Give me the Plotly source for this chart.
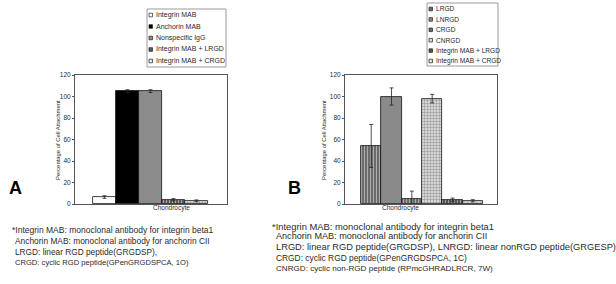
import plotly.graph_objects as go

W, H = 616, 284

# ---------------- data ----------------
a_labels = ["Integrin MAB", "Anchorin MAB", "Nonspecific IgG",
            "Integrin MAB + LRGD", "Integrin MAB + CRGD"]
a_values = [6.5, 105, 105, 4, 3]
a_errors = [1.2, 1.3, 1.3, 1.0, 0.8]

b_labels = ["LRGD", "LNRGD", "CRGD", "CNRGD",
            "Integrin MAB + LRGD", "Integrin MAB + CRGD"]
b_values = [54, 100, 5, 98, 4, 3]
b_errors = [20, 8, 7, 4, 1.5, 1.0]

y_ticks = [0, 20, 40, 60, 80, 100, 120]
x_title = "Chondrocyte"
y_title = "Percentage of Cell Attachment"

a_notes = ["*Integrin MAB: monoclonal antibody for integrin beta1",
           "Anchorin MAB: monoclonal antibody for anchorin CII",
           "LRGD: linear RGD peptide(GRGDSP),",
           "CRGD: cyclic RGD peptide(GPenGRGDSPCA, 1O)"]
b_notes = ["*Integrin MAB: monoclonal antibody for integrin beta1",
           "Anchorin MAB: monoclonal antibody for anchorin CII",
           "LRGD: linear RGD peptide(GRGDSP), LNRGD: linear nonRGD peptide(GRGESP)",
           "CRGD: cyclic RGD peptide(GPenGRGDSPCA, 1C)",
           "CNRGD: cyclic non-RGD peptide (RPmcGHRADLRCR, 7W)"]

# ---------------- styles ----------------
a_colors = ["#ffffff", "#000000", "#8c8c8c", "#5a5a5a", "#e6e6e6"]
a_shapes = ["", "", "", "|", "."]
a_fg = ["#000", "#000", "#000", "#2a2a2a", "#000"]
b_colors = ["#6b6b6b", "#8a8a8a", "#6b6b6b", "#d6d6d6", "#555555", "#dcdcdc"]
b_shapes = ["|", "", "|", "+", "|", "x"]
b_fg = ["#4a4a4a", "#000", "#4a4a4a", "#9a9a9a", "#2a2a2a", "#000"]

FONT = "Liberation Sans, Arial, sans-serif"
TXT = "#2a2a2a"

# per-line footnote font sizes (the scan's capitals run narrower than Arial)
a_note_sizes = [8.5, 8.4, 8.3, 7.6]
b_note_sizes = [9.4, 9.1, 9.3, 8.4, 8.1]


def px(x):
    return x / W


def py(y):
    return 1 - y / H


fig = go.Figure()

fig.add_trace(go.Bar(
    x=a_labels, y=a_values, width=1, xaxis="x", yaxis="y",
    marker=dict(color=a_colors, line=dict(color="#111", width=0.8),
                pattern=dict(shape=a_shapes, fgcolor=a_fg, bgcolor=a_colors,
                             size=3, solidity=0.35)),
    error_y=dict(type="data", array=a_errors, visible=True,
                 color="#222", thickness=0.8, width=2),
    showlegend=False))

fig.add_trace(go.Bar(
    x=b_labels, y=b_values, width=1, xaxis="x2", yaxis="y2",
    marker=dict(color=b_colors, line=dict(color="#111", width=0.8),
                pattern=dict(shape=b_shapes, fgcolor=b_fg, bgcolor=b_colors,
                             size=3, solidity=0.3)),
    error_y=dict(type="data", array=b_errors, visible=True,
                 color="#222", thickness=0.8, width=2),
    showlegend=False))

ydom = [py(204), py(75)]
common_x = dict(showticklabels=False, ticks="", showline=True, mirror=True,
                linecolor="#555", linewidth=1, showgrid=False, zeroline=False,
                type="category", automargin=False)
common_y = dict(range=[0, 120], tickvals=y_ticks, ticks="outside", ticklen=2,
                tickcolor="#555", tickfont=dict(size=6.5, color=TXT, family=FONT),
                showline=True, mirror=True, linecolor="#555", linewidth=1,
                showgrid=False, zeroline=False, automargin=False, domain=ydom)

fig.update_layout(
    width=W, height=H, margin=dict(l=0, r=0, t=0, b=0),
    paper_bgcolor="white", plot_bgcolor="white",
    barmode="overlay", bargap=0,
    font=dict(family=FONT, color=TXT),
    xaxis=dict(domain=[px(75), px(227)], range=[-1.28, 5.33],
               categoryarray=a_labels, categoryorder="array", **common_x),
    yaxis=dict(anchor="x", **common_y),
    xaxis2=dict(domain=[px(345), px(497)], range=[-1.29, 6.19],
                categoryarray=b_labels, categoryorder="array", **common_x),
    yaxis2=dict(anchor="x2", **common_y),
)

ann = []
shapes = []

# axis titles
for cx, ycx in [(151, 53), (421, 324)]:
    ann.append(dict(x=px(cx), y=py(214), xref="paper", yref="paper",
                    text=x_title, showarrow=False,
                    font=dict(size=6.5, family=FONT, color=TXT)))
    ann.append(dict(x=px(ycx), y=py(140), xref="paper", yref="paper",
                    text=y_title, showarrow=False, textangle=-90,
                    font=dict(size=5.9, family=FONT, color=TXT)))

# panel letters
for letter, cx in [("A", 6.5), ("B", 294.5)]:
    ann.append(dict(x=px(cx), y=py(188.5), xref="paper", yref="paper",
                    text="<b>%s</b>" % letter, showarrow=False,
                    font=dict(size=18, family=FONT, color="#000")))


# legends (drawn manually to match the compact original boxes)
def legend(labels, colors, x0, x1, y0, y1, first, step, fsize):
    shapes.append(dict(type="rect", xref="paper", yref="paper",
                       x0=px(x0), x1=px(x1), y0=py(y1), y1=py(y0),
                       line=dict(color="#9a9a9a", width=1), fillcolor="white"))
    for i, (lab, col) in enumerate(zip(labels, colors)):
        cy = first + i * step
        shapes.append(dict(type="rect", xref="paper", yref="paper",
                           x0=px(x0 + 2), x1=px(x0 + 5.5),
                           y0=py(cy + 1.8), y1=py(cy - 1.8),
                           line=dict(color="#222", width=0.7), fillcolor=col))
        ann.append(dict(x=px(x0 + 6.5), y=py(cy), xref="paper", yref="paper",
                        xanchor="left", yanchor="middle", text=lab,
                        showarrow=False,
                        font=dict(size=fsize, family=FONT, color=TXT)))


legend(a_labels, a_colors, 147, 226, 9, 67, 15, 11.5, 7)
legend(b_labels, b_colors, 427, 498, 3, 66, 9, 10.4, 6.6)


# footnotes
def notes(lines, sizes, x_star, x_text, y_first, step):
    for i, (line, fsize) in enumerate(zip(lines, sizes)):
        ann.append(dict(x=px(x_star if i == 0 else x_text), y=py(y_first + i * step),
                        xref="paper", yref="paper", xanchor="left",
                        yanchor="middle", text=line, showarrow=False,
                        font=dict(size=fsize, family=FONT, color=TXT)))


notes(a_notes, a_note_sizes, 9.5, 13, 229.5, 11)
notes(b_notes, b_note_sizes, 269.5, 273.5, 226, 10.5)

fig.update_layout(annotations=ann, shapes=shapes)
fig.write_html("out.html")
